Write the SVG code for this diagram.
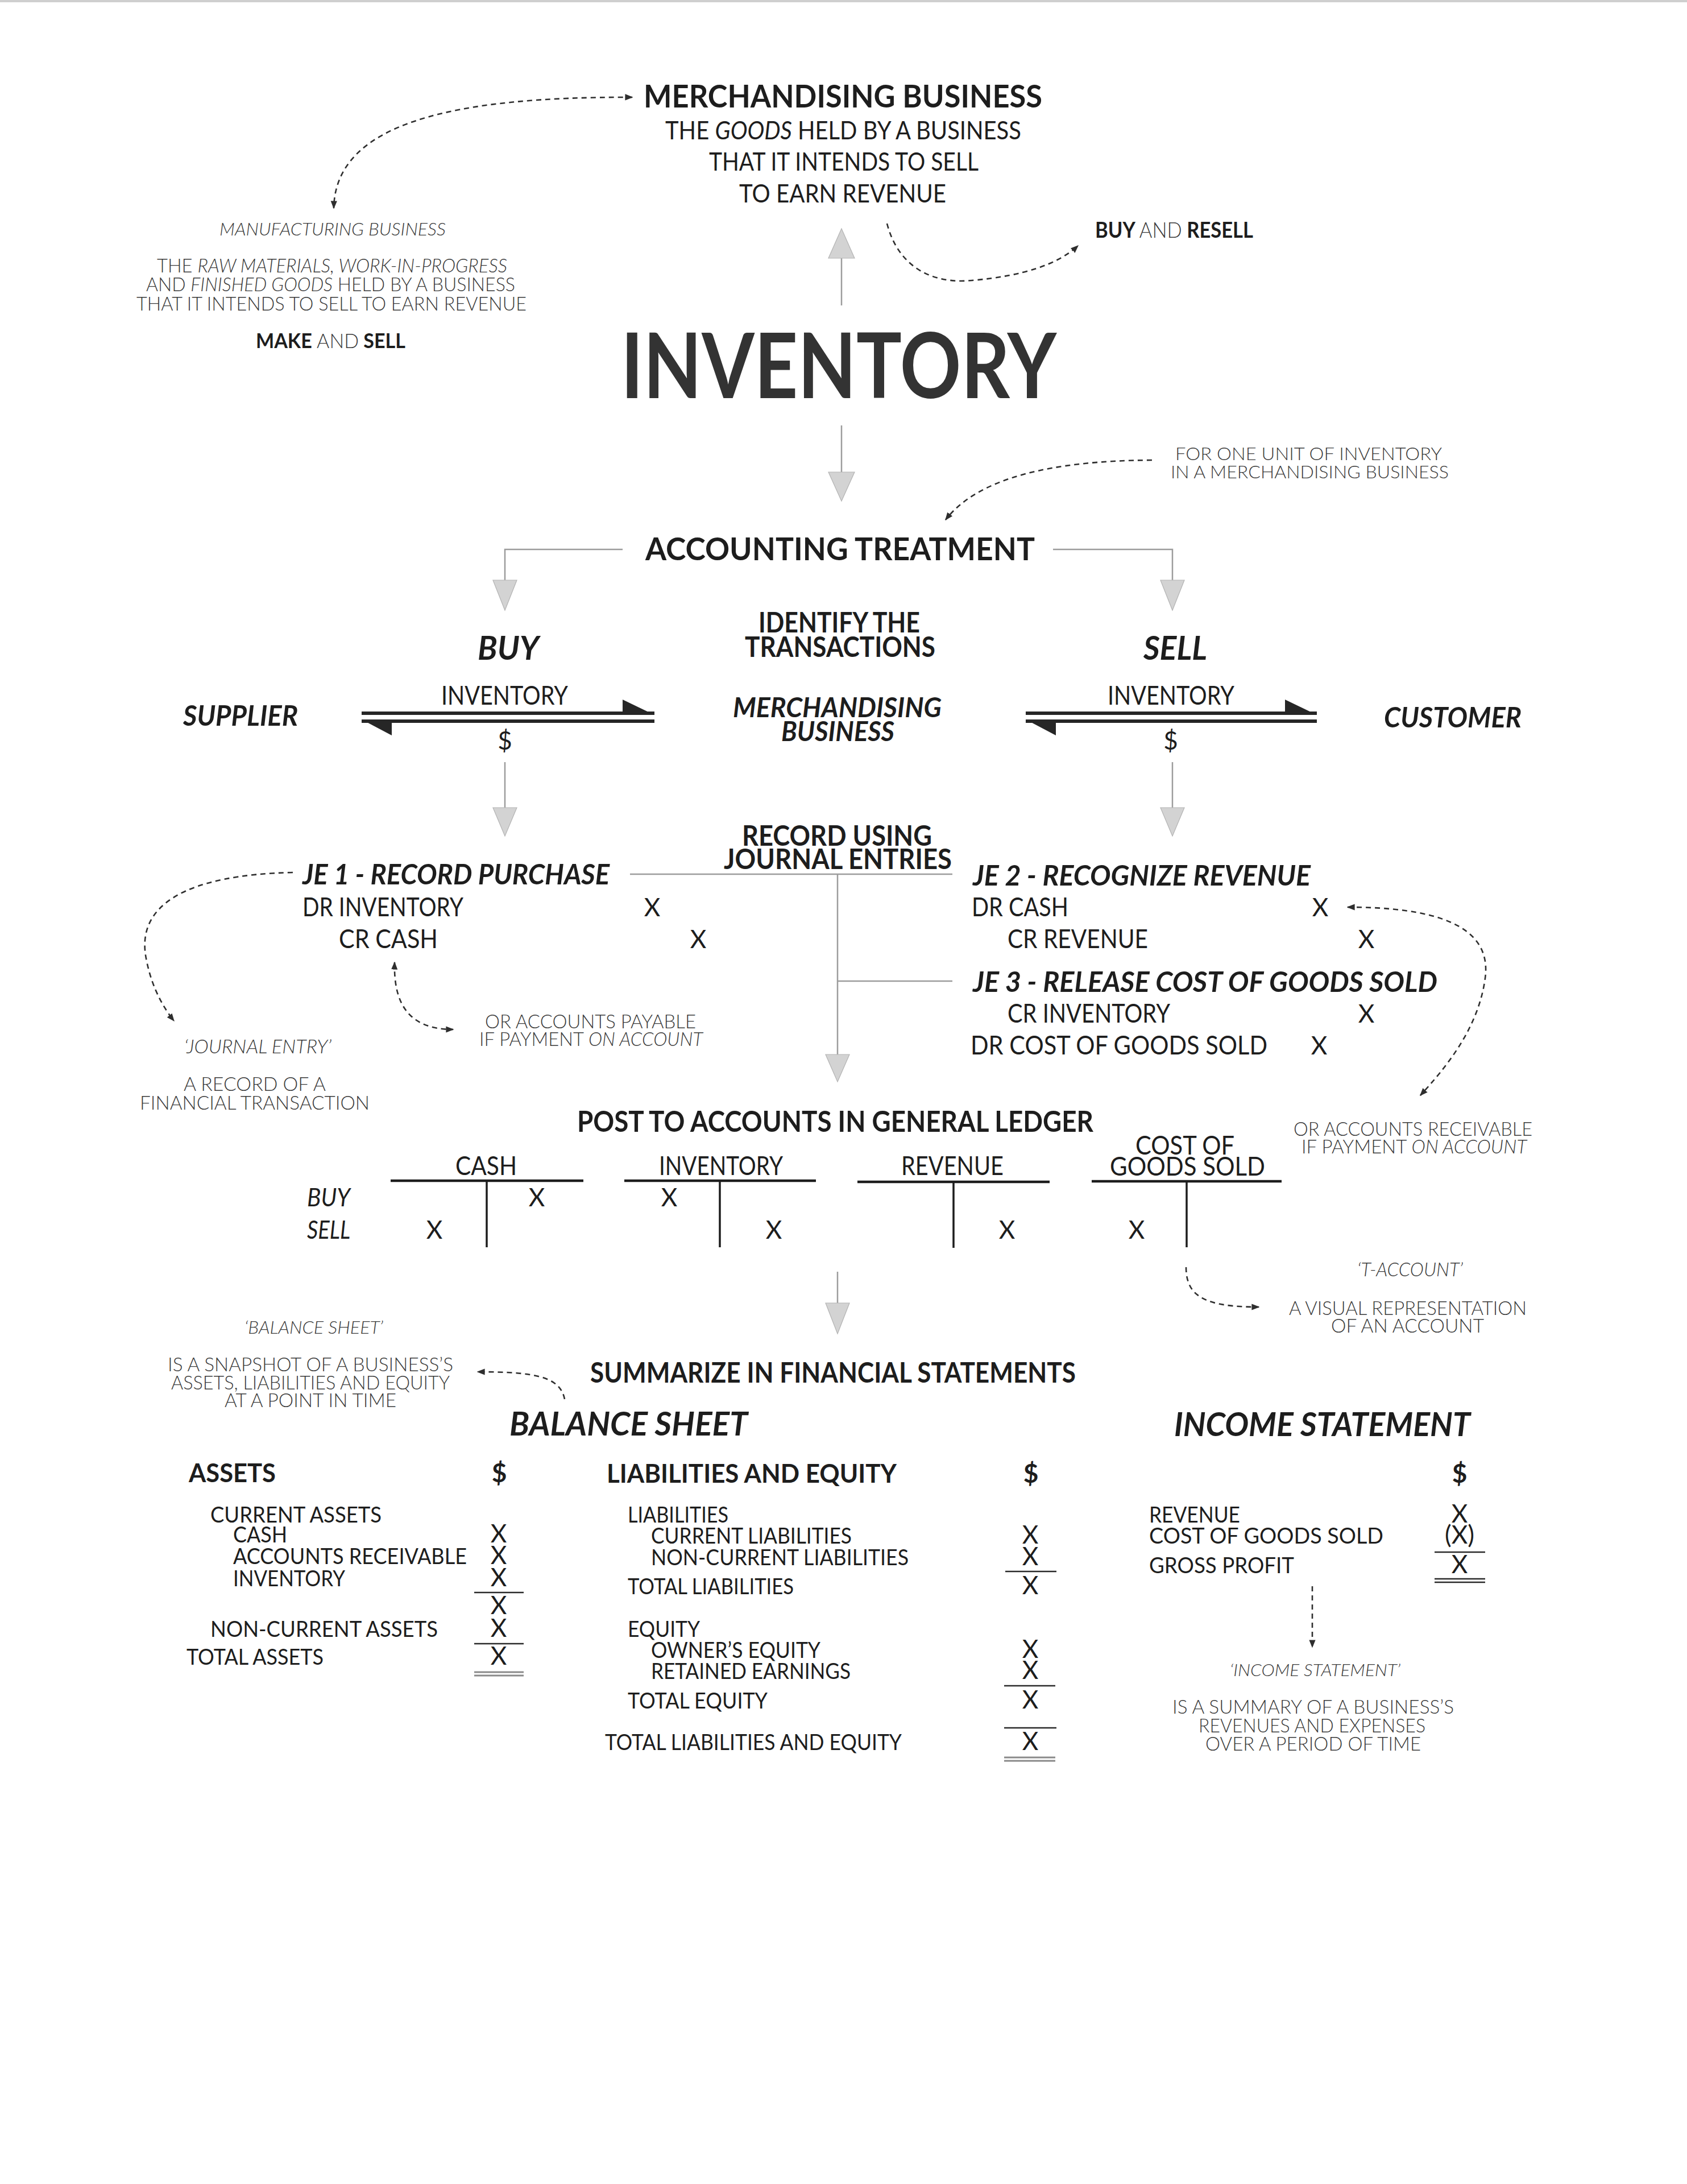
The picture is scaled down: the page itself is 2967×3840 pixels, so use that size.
<svg xmlns="http://www.w3.org/2000/svg" width="2967" height="3840" viewBox="0 0 2967 3840">
  <defs>
    <style>
      text { font-family: Lato, "Liberation Sans", "DejaVu Sans", sans-serif; fill: #1d1d1d; }
      .b { font-weight: 700; }
      .r { font-weight: 400; }
      .l { font-weight: 300; fill: #3b3b3b; }
      .i { font-style: italic; }
      .x { font-weight: 400; text-anchor: middle; font-size: 44px; }
      .gl { stroke: #9c9c9c; stroke-width: 2.5; fill: none; }
      .ah { fill: #d3d3d3; stroke: #b4b4b4; stroke-width: 1.2; }
      .dl { stroke: #2e2e2e; stroke-width: 2.6; fill: none; stroke-dasharray: 9 7; }
      .end { marker-end: url(#tip); }
      .both { marker-start: url(#tip); marker-end: url(#tip); }
      .tl { stroke: #1d1d1d; stroke-width: 4.5; }
      .tv { stroke: #1d1d1d; stroke-width: 3.5; }
      .ul { stroke: #2a2a2a; stroke-width: 2.6; }
      .dbl { stroke: #8a8a8a; stroke-width: 3; }
      .bar { fill: #262626; }
    </style>
    <marker id="tip" viewBox="0 0 10 10" refX="9" refY="5" markerWidth="14" markerHeight="14" markerUnits="userSpaceOnUse" orient="auto-start-reverse">
      <path d="M0,1 L10,5 L0,9 z" fill="#2e2e2e"/>
    </marker>
  </defs>

  <rect x="0" y="0" width="2967" height="3840" fill="#ffffff"/>
  <line x1="0" y1="2" x2="2967" y2="2" stroke="#cfcfcf" stroke-width="4"/>

  <!-- connectors -->
  <g id="connectors">
    <!-- grey flow arrows -->
    <line class="gl" x1="1480" y1="537" x2="1480" y2="450"/>
    <polygon class="ah" points="1457,454 1503,454 1480,402"/>
    <line class="gl" x1="1480" y1="748" x2="1480" y2="832"/>
    <polygon class="ah" points="1457,830 1503,830 1480,881"/>
    <path class="gl" d="M1095,966 H888 V1022"/>
    <polygon class="ah" points="867,1020 909,1020 888,1073"/>
    <path class="gl" d="M1852,966 H2062 V1022"/>
    <polygon class="ah" points="2041,1020 2083,1020 2062,1073"/>
    <line class="gl" x1="888" y1="1340" x2="888" y2="1422"/>
    <polygon class="ah" points="867,1420 909,1420 888,1470"/>
    <line class="gl" x1="2062" y1="1340" x2="2062" y2="1422"/>
    <polygon class="ah" points="2041,1420 2083,1420 2062,1470"/>
    <path class="gl" d="M1108,1537 H1675 M1473,1537 V1856 M1473,1725 H1675"/>
    <polygon class="ah" points="1452,1854 1494,1854 1473,1902"/>
    <line class="gl" x1="1473" y1="2236" x2="1473" y2="2293"/>
    <polygon class="ah" points="1452,2291 1494,2291 1473,2345"/>

    <!-- exchange arrows: buy -->
    <rect class="bar" x="636" y="1251" width="515" height="6"/>
    <polygon class="bar" points="1095,1230 1151,1257 1095,1257"/>
    <rect class="bar" x="636" y="1265" width="515" height="6"/>
    <polygon class="bar" points="636,1265 689,1265 689,1293"/>
    <!-- exchange arrows: sell -->
    <rect class="bar" x="1804" y="1251" width="512" height="6"/>
    <polygon class="bar" points="1260,1230 1316,1257 1260,1257" transform="translate(1000,0)"/>
    <rect class="bar" x="1804" y="1265" width="512" height="6"/>
    <polygon class="bar" points="1804,1265 1857,1265 1857,1293"/>

    <!-- dashed annotation links -->
    <path class="dl both" d="M1112,171 C800,170 590,215 587,366"/>
    <path class="dl end" d="M1560,393 C1580,470 1640,500 1710,493 C1800,485 1860,465 1896,432"/>
    <path class="dl end" d="M2026,809 C1850,810 1720,840 1663,914"/>
    <path class="dl end" d="M515,1534 C330,1538 235,1590 258,1690 C268,1740 290,1775 306,1795"/>
    <path class="dl both" d="M694,1692 C692,1760 715,1810 797,1810"/>
    <path class="dl both" d="M2370,1595 C2520,1595 2625,1625 2612,1720 C2600,1810 2540,1880 2498,1926"/>
    <path class="dl end" d="M2086,2228 C2086,2280 2120,2298 2214,2298"/>
    <path class="dl end" d="M993,2460 C985,2420 940,2412 840,2412"/>
    <path class="dl end" d="M2308,2789 V2896"/>
  </g>

  <!-- merchandising business -->
  <g id="merchandising">
    <text class="b" x="1132" y="189" font-size="56" textLength="701" lengthAdjust="spacingAndGlyphs">MERCHANDISING BUSINESS</text>
    <text class="r" x="1170" y="245" font-size="45" textLength="626" lengthAdjust="spacingAndGlyphs">THE <tspan class="i">GOODS</tspan> HELD BY A BUSINESS</text>
    <text class="r" x="1247" y="300" font-size="45" textLength="474" lengthAdjust="spacingAndGlyphs">THAT IT INTENDS TO SELL</text>
    <text class="r" x="1300" y="356" font-size="45" textLength="364" lengthAdjust="spacingAndGlyphs">TO EARN REVENUE</text>
  </g>

  <g id="buy-resell">
    <text class="b" x="1926" y="418" font-size="38" textLength="278" lengthAdjust="spacingAndGlyphs">BUY <tspan class="l">AND</tspan> RESELL</text>
  </g>

  <!-- manufacturing business -->
  <g id="manufacturing">
    <text class="l i" x="386" y="414" font-size="32" textLength="398" lengthAdjust="spacingAndGlyphs">MANUFACTURING BUSINESS</text>
    <text class="l" x="276" y="479" font-size="34" textLength="616" lengthAdjust="spacingAndGlyphs">THE <tspan class="i">RAW MATERIALS, WORK-IN-PROGRESS</tspan></text>
    <text class="l" x="257" y="512" font-size="34" textLength="649" lengthAdjust="spacingAndGlyphs">AND <tspan class="i">FINISHED GOODS</tspan> HELD BY A BUSINESS</text>
    <text class="l" x="240" y="546" font-size="34" textLength="686" lengthAdjust="spacingAndGlyphs">THAT IT INTENDS TO SELL TO EARN REVENUE</text>
    <text class="b" x="450" y="612" font-size="36" textLength="263" lengthAdjust="spacingAndGlyphs">MAKE <tspan class="l">AND</tspan> SELL</text>
  </g>

  <!-- title -->
  <g id="inventory">
    <text class="b" x="1092" y="700" font-size="160" textLength="766" lengthAdjust="spacingAndGlyphs" style="fill:#333333">INVENTORY</text>
  </g>

  <g id="unit-note">
    <text class="l" x="2067" y="809" font-size="32" textLength="469" lengthAdjust="spacingAndGlyphs">FOR ONE UNIT OF INVENTORY</text>
    <text class="l" x="2059" y="841" font-size="32" textLength="489" lengthAdjust="spacingAndGlyphs">IN A MERCHANDISING BUSINESS</text>
  </g>

  <g id="accounting-treatment">
    <text class="b" x="1135" y="985" font-size="56" textLength="685" lengthAdjust="spacingAndGlyphs">ACCOUNTING TREATMENT</text>
  </g>

  <!-- identify the transactions -->
  <g id="identify">
    <text class="b" x="1334" y="1112" font-size="50" textLength="284" lengthAdjust="spacingAndGlyphs">IDENTIFY THE</text>
    <text class="b" x="1310" y="1155" font-size="50" textLength="335" lengthAdjust="spacingAndGlyphs">TRANSACTIONS</text>
  </g>
  <g id="buy">
    <text class="b i" x="840" y="1160" font-size="58" textLength="108" lengthAdjust="spacingAndGlyphs">BUY</text>
    <text class="r" x="776" y="1239" font-size="46" textLength="223" lengthAdjust="spacingAndGlyphs">INVENTORY</text>
    <text class="r" x="888" y="1318" font-size="44" text-anchor="middle">$</text>
  </g>
  <g id="sell">
    <text class="b i" x="2011" y="1160" font-size="58" textLength="112" lengthAdjust="spacingAndGlyphs">SELL</text>
    <text class="r" x="1948" y="1239" font-size="46" textLength="223" lengthAdjust="spacingAndGlyphs">INVENTORY</text>
    <text class="r" x="2059" y="1318" font-size="44" text-anchor="middle">$</text>
  </g>
  <g id="supplier">
    <text class="b i" x="322" y="1276" font-size="50" textLength="202" lengthAdjust="spacingAndGlyphs">SUPPLIER</text>
  </g>
  <g id="merchandising-business">
    <text class="b i" x="1289" y="1261" font-size="47" textLength="367" lengthAdjust="spacingAndGlyphs">MERCHANDISING</text>
    <text class="b i" x="1374" y="1303" font-size="47" textLength="199" lengthAdjust="spacingAndGlyphs">BUSINESS</text>
  </g>
  <g id="customer">
    <text class="b i" x="2434" y="1279" font-size="50" textLength="242" lengthAdjust="spacingAndGlyphs">CUSTOMER</text>
  </g>

  <!-- journal entries -->
  <g id="record-journal">
    <text class="b" x="1305" y="1487" font-size="50" textLength="334" lengthAdjust="spacingAndGlyphs">RECORD USING</text>
    <text class="b" x="1273" y="1528" font-size="50" textLength="401" lengthAdjust="spacingAndGlyphs">JOURNAL ENTRIES</text>
  </g>
  <g id="je1">
    <text class="b i" x="532" y="1555" font-size="50" textLength="540" lengthAdjust="spacingAndGlyphs">JE 1 - RECORD PURCHASE</text>
    <text class="r" x="532" y="1611" font-size="46" textLength="283" lengthAdjust="spacingAndGlyphs">DR INVENTORY</text>
    <text class="x" x="1147" y="1611">X</text>
    <text class="r" x="596" y="1667" font-size="46" textLength="174" lengthAdjust="spacingAndGlyphs">CR CASH</text>
    <text class="x" x="1228" y="1667">X</text>
  </g>
  <g id="payable-note">
    <text class="l" x="853" y="1808" font-size="34" textLength="371" lengthAdjust="spacingAndGlyphs">OR ACCOUNTS PAYABLE</text>
    <text class="l" x="843" y="1839" font-size="34" textLength="393" lengthAdjust="spacingAndGlyphs">IF PAYMENT <tspan class="i">ON ACCOUNT</tspan></text>
  </g>
  <g id="journal-entry-note">
    <text class="l i" x="324" y="1852" font-size="33" textLength="259" lengthAdjust="spacingAndGlyphs">‘JOURNAL ENTRY’</text>
    <text class="l" x="323" y="1918" font-size="34" textLength="250" lengthAdjust="spacingAndGlyphs">A RECORD OF A</text>
    <text class="l" x="246" y="1951" font-size="34" textLength="404" lengthAdjust="spacingAndGlyphs">FINANCIAL TRANSACTION</text>
  </g>
  <g id="je2">
    <text class="b i" x="1711" y="1557" font-size="50" textLength="594" lengthAdjust="spacingAndGlyphs">JE 2 - RECOGNIZE REVENUE</text>
    <text class="r" x="1709" y="1611" font-size="46" textLength="170" lengthAdjust="spacingAndGlyphs">DR CASH</text>
    <text class="x" x="2322" y="1611">X</text>
    <text class="r" x="1772" y="1667" font-size="46" textLength="247" lengthAdjust="spacingAndGlyphs">CR REVENUE</text>
    <text class="x" x="2403" y="1667">X</text>
  </g>
  <g id="je3">
    <text class="b i" x="1711" y="1744" font-size="50" textLength="817" lengthAdjust="spacingAndGlyphs">JE 3 - RELEASE COST OF GOODS SOLD</text>
    <text class="r" x="1772" y="1798" font-size="46" textLength="286" lengthAdjust="spacingAndGlyphs">CR INVENTORY</text>
    <text class="x" x="2403" y="1798">X</text>
    <text class="r" x="1707" y="1854" font-size="46" textLength="522" lengthAdjust="spacingAndGlyphs">DR COST OF GOODS SOLD</text>
    <text class="x" x="2320" y="1854">X</text>
  </g>
  <g id="receivable-note">
    <text class="l" x="2275" y="1997" font-size="34" textLength="420" lengthAdjust="spacingAndGlyphs">OR ACCOUNTS RECEIVABLE</text>
    <text class="l" x="2289" y="2028" font-size="34" textLength="396" lengthAdjust="spacingAndGlyphs">IF PAYMENT <tspan class="i">ON ACCOUNT</tspan></text>
  </g>

  <!-- general ledger -->
  <g id="general-ledger">
    <text class="b" x="1015" y="1990" font-size="52" textLength="908" lengthAdjust="spacingAndGlyphs">POST TO ACCOUNTS IN GENERAL LEDGER</text>
    <text class="r i" x="540" y="2121" font-size="44" textLength="76" lengthAdjust="spacingAndGlyphs">BUY</text>
    <text class="r i" x="540" y="2178" font-size="44" textLength="76" lengthAdjust="spacingAndGlyphs">SELL</text>
  </g>
  <g id="t-cash">
    <text class="r" x="801" y="2066" font-size="46" textLength="108" lengthAdjust="spacingAndGlyphs">CASH</text>
    <line class="tl" x1="687" y1="2076" x2="1026" y2="2076"/>
    <line class="tv" x1="856" y1="2076" x2="856" y2="2193"/>
    <text class="x" x="944" y="2121">X</text>
    <text class="x" x="764" y="2178">X</text>
  </g>
  <g id="t-inventory">
    <text class="r" x="1159" y="2066" font-size="46" textLength="218" lengthAdjust="spacingAndGlyphs">INVENTORY</text>
    <line class="tl" x1="1098" y1="2076" x2="1435" y2="2076"/>
    <line class="tv" x1="1266" y1="2076" x2="1266" y2="2193"/>
    <text class="x" x="1177" y="2121">X</text>
    <text class="x" x="1361" y="2178">X</text>
  </g>
  <g id="t-revenue">
    <text class="r" x="1585" y="2066" font-size="46" textLength="180" lengthAdjust="spacingAndGlyphs">REVENUE</text>
    <line class="tl" x1="1508" y1="2078" x2="1846" y2="2078"/>
    <line class="tv" x1="1677" y1="2078" x2="1677" y2="2194"/>
    <text class="x" x="1771" y="2178">X</text>
  </g>
  <g id="t-cogs">
    <text class="r" x="1997" y="2030" font-size="46" textLength="174" lengthAdjust="spacingAndGlyphs">COST OF</text>
    <text class="r" x="1952" y="2067" font-size="46" textLength="273" lengthAdjust="spacingAndGlyphs">GOODS SOLD</text>
    <line class="tl" x1="1920" y1="2077" x2="2254" y2="2077"/>
    <line class="tv" x1="2087" y1="2077" x2="2087" y2="2193"/>
    <text class="x" x="1999" y="2178">X</text>
  </g>
  <g id="t-account-note">
    <text class="l i" x="2387" y="2244" font-size="33" textLength="186" lengthAdjust="spacingAndGlyphs">‘T-ACCOUNT’</text>
    <text class="l" x="2267" y="2312" font-size="34" textLength="418" lengthAdjust="spacingAndGlyphs">A VISUAL REPRESENTATION</text>
    <text class="l" x="2341" y="2343" font-size="34" textLength="269" lengthAdjust="spacingAndGlyphs">OF AN ACCOUNT</text>
  </g>

  <!-- financial statements -->
  <g id="balance-sheet-note">
    <text class="l i" x="430" y="2345" font-size="31" textLength="244" lengthAdjust="spacingAndGlyphs">‘BALANCE SHEET’</text>
    <text class="l" x="295" y="2411" font-size="34" textLength="502" lengthAdjust="spacingAndGlyphs">IS A SNAPSHOT OF A BUSINESS’S</text>
    <text class="l" x="301" y="2443" font-size="34" textLength="490" lengthAdjust="spacingAndGlyphs">ASSETS, LIABILITIES AND EQUITY</text>
    <text class="l" x="395" y="2474" font-size="34" textLength="302" lengthAdjust="spacingAndGlyphs">AT A POINT IN TIME</text>
  </g>
  <g id="summarize">
    <text class="b" x="1038" y="2431" font-size="50" textLength="854" lengthAdjust="spacingAndGlyphs">SUMMARIZE IN FINANCIAL STATEMENTS</text>
  </g>

  <g id="balance-sheet">
    <text class="b i" x="896" y="2524" font-size="58" textLength="419" lengthAdjust="spacingAndGlyphs">BALANCE SHEET</text>
    <text class="b" x="332" y="2606" font-size="46" textLength="153" lengthAdjust="spacingAndGlyphs">ASSETS</text>
    <text class="b" x="878" y="2606" font-size="46" text-anchor="middle">$</text>
    <text class="r" x="370" y="2677" font-size="39" textLength="301" lengthAdjust="spacingAndGlyphs">CURRENT ASSETS</text>
    <text class="r" x="410" y="2712" font-size="39" textLength="95" lengthAdjust="spacingAndGlyphs">CASH</text>
    <text class="r" x="410" y="2750" font-size="39" textLength="411" lengthAdjust="spacingAndGlyphs">ACCOUNTS RECEIVABLE</text>
    <text class="r" x="410" y="2789" font-size="39" textLength="197" lengthAdjust="spacingAndGlyphs">INVENTORY</text>
    <text class="x" x="877" y="2712" font-size="40">X</text>
    <text class="x" x="877" y="2750" font-size="40">X</text>
    <text class="x" x="877" y="2789" font-size="40">X</text>
    <line class="ul" x1="834" y1="2800" x2="921" y2="2800"/>
    <text class="x" x="877" y="2838" font-size="40">X</text>
    <text class="r" x="370" y="2878" font-size="39" textLength="400" lengthAdjust="spacingAndGlyphs">NON-CURRENT ASSETS</text>
    <text class="x" x="877" y="2878" font-size="40">X</text>
    <line class="ul" x1="834" y1="2890" x2="921" y2="2890"/>
    <text class="r" x="328" y="2927" font-size="39" textLength="241" lengthAdjust="spacingAndGlyphs">TOTAL ASSETS</text>
    <text class="x" x="877" y="2927" font-size="40">X</text>
    <line class="dbl" x1="834" y1="2940" x2="921" y2="2940"/>
    <line class="dbl" x1="834" y1="2946" x2="921" y2="2946"/>
  </g>

  <g id="liabilities-equity">
    <text class="b" x="1067" y="2607" font-size="46" textLength="510" lengthAdjust="spacingAndGlyphs">LIABILITIES AND EQUITY</text>
    <text class="b" x="1813" y="2607" font-size="46" text-anchor="middle">$</text>
    <text class="r" x="1104" y="2677" font-size="39" textLength="177" lengthAdjust="spacingAndGlyphs">LIABILITIES</text>
    <text class="r" x="1145" y="2714" font-size="39" textLength="353" lengthAdjust="spacingAndGlyphs">CURRENT LIABILITIES</text>
    <text class="r" x="1145" y="2752" font-size="39" textLength="453" lengthAdjust="spacingAndGlyphs">NON-CURRENT LIABILITIES</text>
    <text class="x" x="1812" y="2714" font-size="40">X</text>
    <text class="x" x="1812" y="2752" font-size="40">X</text>
    <line class="ul" x1="1768" y1="2763" x2="1858" y2="2763"/>
    <text class="r" x="1104" y="2803" font-size="39" textLength="292" lengthAdjust="spacingAndGlyphs">TOTAL LIABILITIES</text>
    <text class="x" x="1812" y="2803" font-size="40">X</text>
    <text class="r" x="1104" y="2878" font-size="39" textLength="127" lengthAdjust="spacingAndGlyphs">EQUITY</text>
    <text class="r" x="1145" y="2915" font-size="39" textLength="298" lengthAdjust="spacingAndGlyphs">OWNER’S EQUITY</text>
    <text class="r" x="1145" y="2952" font-size="39" textLength="351" lengthAdjust="spacingAndGlyphs">RETAINED EARNINGS</text>
    <text class="x" x="1812" y="2915" font-size="40">X</text>
    <text class="x" x="1812" y="2952" font-size="40">X</text>
    <line class="ul" x1="1766" y1="2964" x2="1856" y2="2964"/>
    <text class="r" x="1104" y="3004" font-size="39" textLength="246" lengthAdjust="spacingAndGlyphs">TOTAL EQUITY</text>
    <text class="x" x="1812" y="3004" font-size="40">X</text>
    <line class="ul" x1="1766" y1="3038" x2="1858" y2="3038"/>
    <text class="r" x="1064" y="3077" font-size="39" textLength="522" lengthAdjust="spacingAndGlyphs">TOTAL LIABILITIES AND EQUITY</text>
    <text class="x" x="1812" y="3077" font-size="40">X</text>
    <line class="dbl" x1="1766" y1="3090" x2="1856" y2="3090"/>
    <line class="dbl" x1="1766" y1="3096" x2="1856" y2="3096"/>
  </g>

  <g id="income-statement">
    <text class="b i" x="2065" y="2525" font-size="58" textLength="521" lengthAdjust="spacingAndGlyphs">INCOME STATEMENT</text>
    <text class="b" x="2567" y="2607" font-size="46" text-anchor="middle">$</text>
    <text class="r" x="2021" y="2677" font-size="39" textLength="160" lengthAdjust="spacingAndGlyphs">REVENUE</text>
    <text class="r" x="2021" y="2714" font-size="39" textLength="412" lengthAdjust="spacingAndGlyphs">COST OF GOODS SOLD</text>
    <text class="r" x="2021" y="2766" font-size="39" textLength="255" lengthAdjust="spacingAndGlyphs">GROSS PROFIT</text>
    <text class="x" x="2567" y="2677" font-size="40">X</text>
    <text class="x" x="2567" y="2714" font-size="40">(X)</text>
    <line class="ul" x1="2523" y1="2729" x2="2612" y2="2729"/>
    <text class="x" x="2567" y="2766" font-size="40">X</text>
    <line class="ul" x1="2523" y1="2776" x2="2612" y2="2776"/>
    <line class="ul" x1="2523" y1="2782" x2="2612" y2="2782"/>
  </g>
  <g id="income-statement-note">
    <text class="l i" x="2163" y="2947" font-size="30" textLength="300" lengthAdjust="spacingAndGlyphs">‘INCOME STATEMENT’</text>
    <text class="l" x="2062" y="3013" font-size="34" textLength="495" lengthAdjust="spacingAndGlyphs">IS A SUMMARY OF A BUSINESS’S</text>
    <text class="l" x="2108" y="3046" font-size="34" textLength="399" lengthAdjust="spacingAndGlyphs">REVENUES AND EXPENSES</text>
    <text class="l" x="2120" y="3078" font-size="34" textLength="379" lengthAdjust="spacingAndGlyphs">OVER A PERIOD OF TIME</text>
  </g>
</svg>
